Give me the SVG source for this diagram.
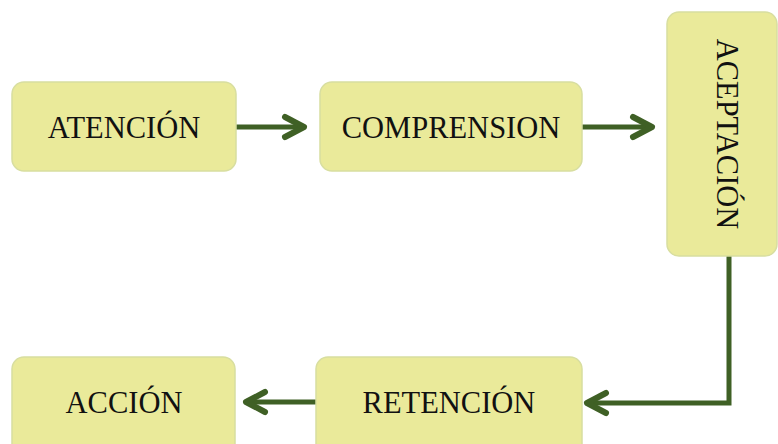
<svg xmlns="http://www.w3.org/2000/svg" width="778" height="444" viewBox="0 0 778 444">
<defs>
<style>
.box{fill:#eaea9a;stroke:#d8dea0;stroke-width:1.5}
.lbl{font-family:"Liberation Serif","Times New Roman",serif;font-size:30.5px;fill:#111;text-anchor:middle}
.conn{fill:none;stroke:#3f6025;stroke-width:5}
.head{fill:none;stroke:#3f6025;stroke-width:6;stroke-linecap:round;stroke-linejoin:round}
</style>
</defs>
<g id="connectors">
<line class="conn" x1="236" y1="127" x2="303" y2="127"/>
<polyline class="head" points="285,117 304,127 285,137"/>
<line class="conn" x1="582" y1="127" x2="651" y2="127"/>
<polyline class="head" points="633,117 652,127 633,137"/>
<polyline class="conn" points="729,256 729,403 588,403"/>
<polyline class="head" points="606,393 587,403 606,413"/>
<line class="conn" x1="316" y1="402" x2="247" y2="402"/>
<polyline class="head" points="265,392 246,402 265,412"/>
</g>
<g id="atencion">
<rect class="box" x="12" y="82" width="224" height="89" rx="12"/>
<text class="lbl" x="124" y="138">ATENCIÓN</text>
</g>
<g id="comprension">
<rect class="box" x="320" y="82" width="262" height="89" rx="12"/>
<text class="lbl" x="451" y="138">COMPRENSION</text>
</g>
<g id="aceptacion">
<rect class="box" x="667" y="12" width="110" height="244" rx="12"/>
<text class="lbl" transform="translate(717,134) rotate(90)" x="0" y="0">ACEPTACIÓN</text>
</g>
<g id="retencion">
<rect class="box" x="316" y="357" width="266" height="100" rx="12"/>
<text class="lbl" x="449" y="413">RETENCIÓN</text>
</g>
<g id="accion">
<rect class="box" x="12" y="357" width="223" height="100" rx="12"/>
<text class="lbl" x="124" y="413">ACCIÓN</text>
</g>
</svg>
